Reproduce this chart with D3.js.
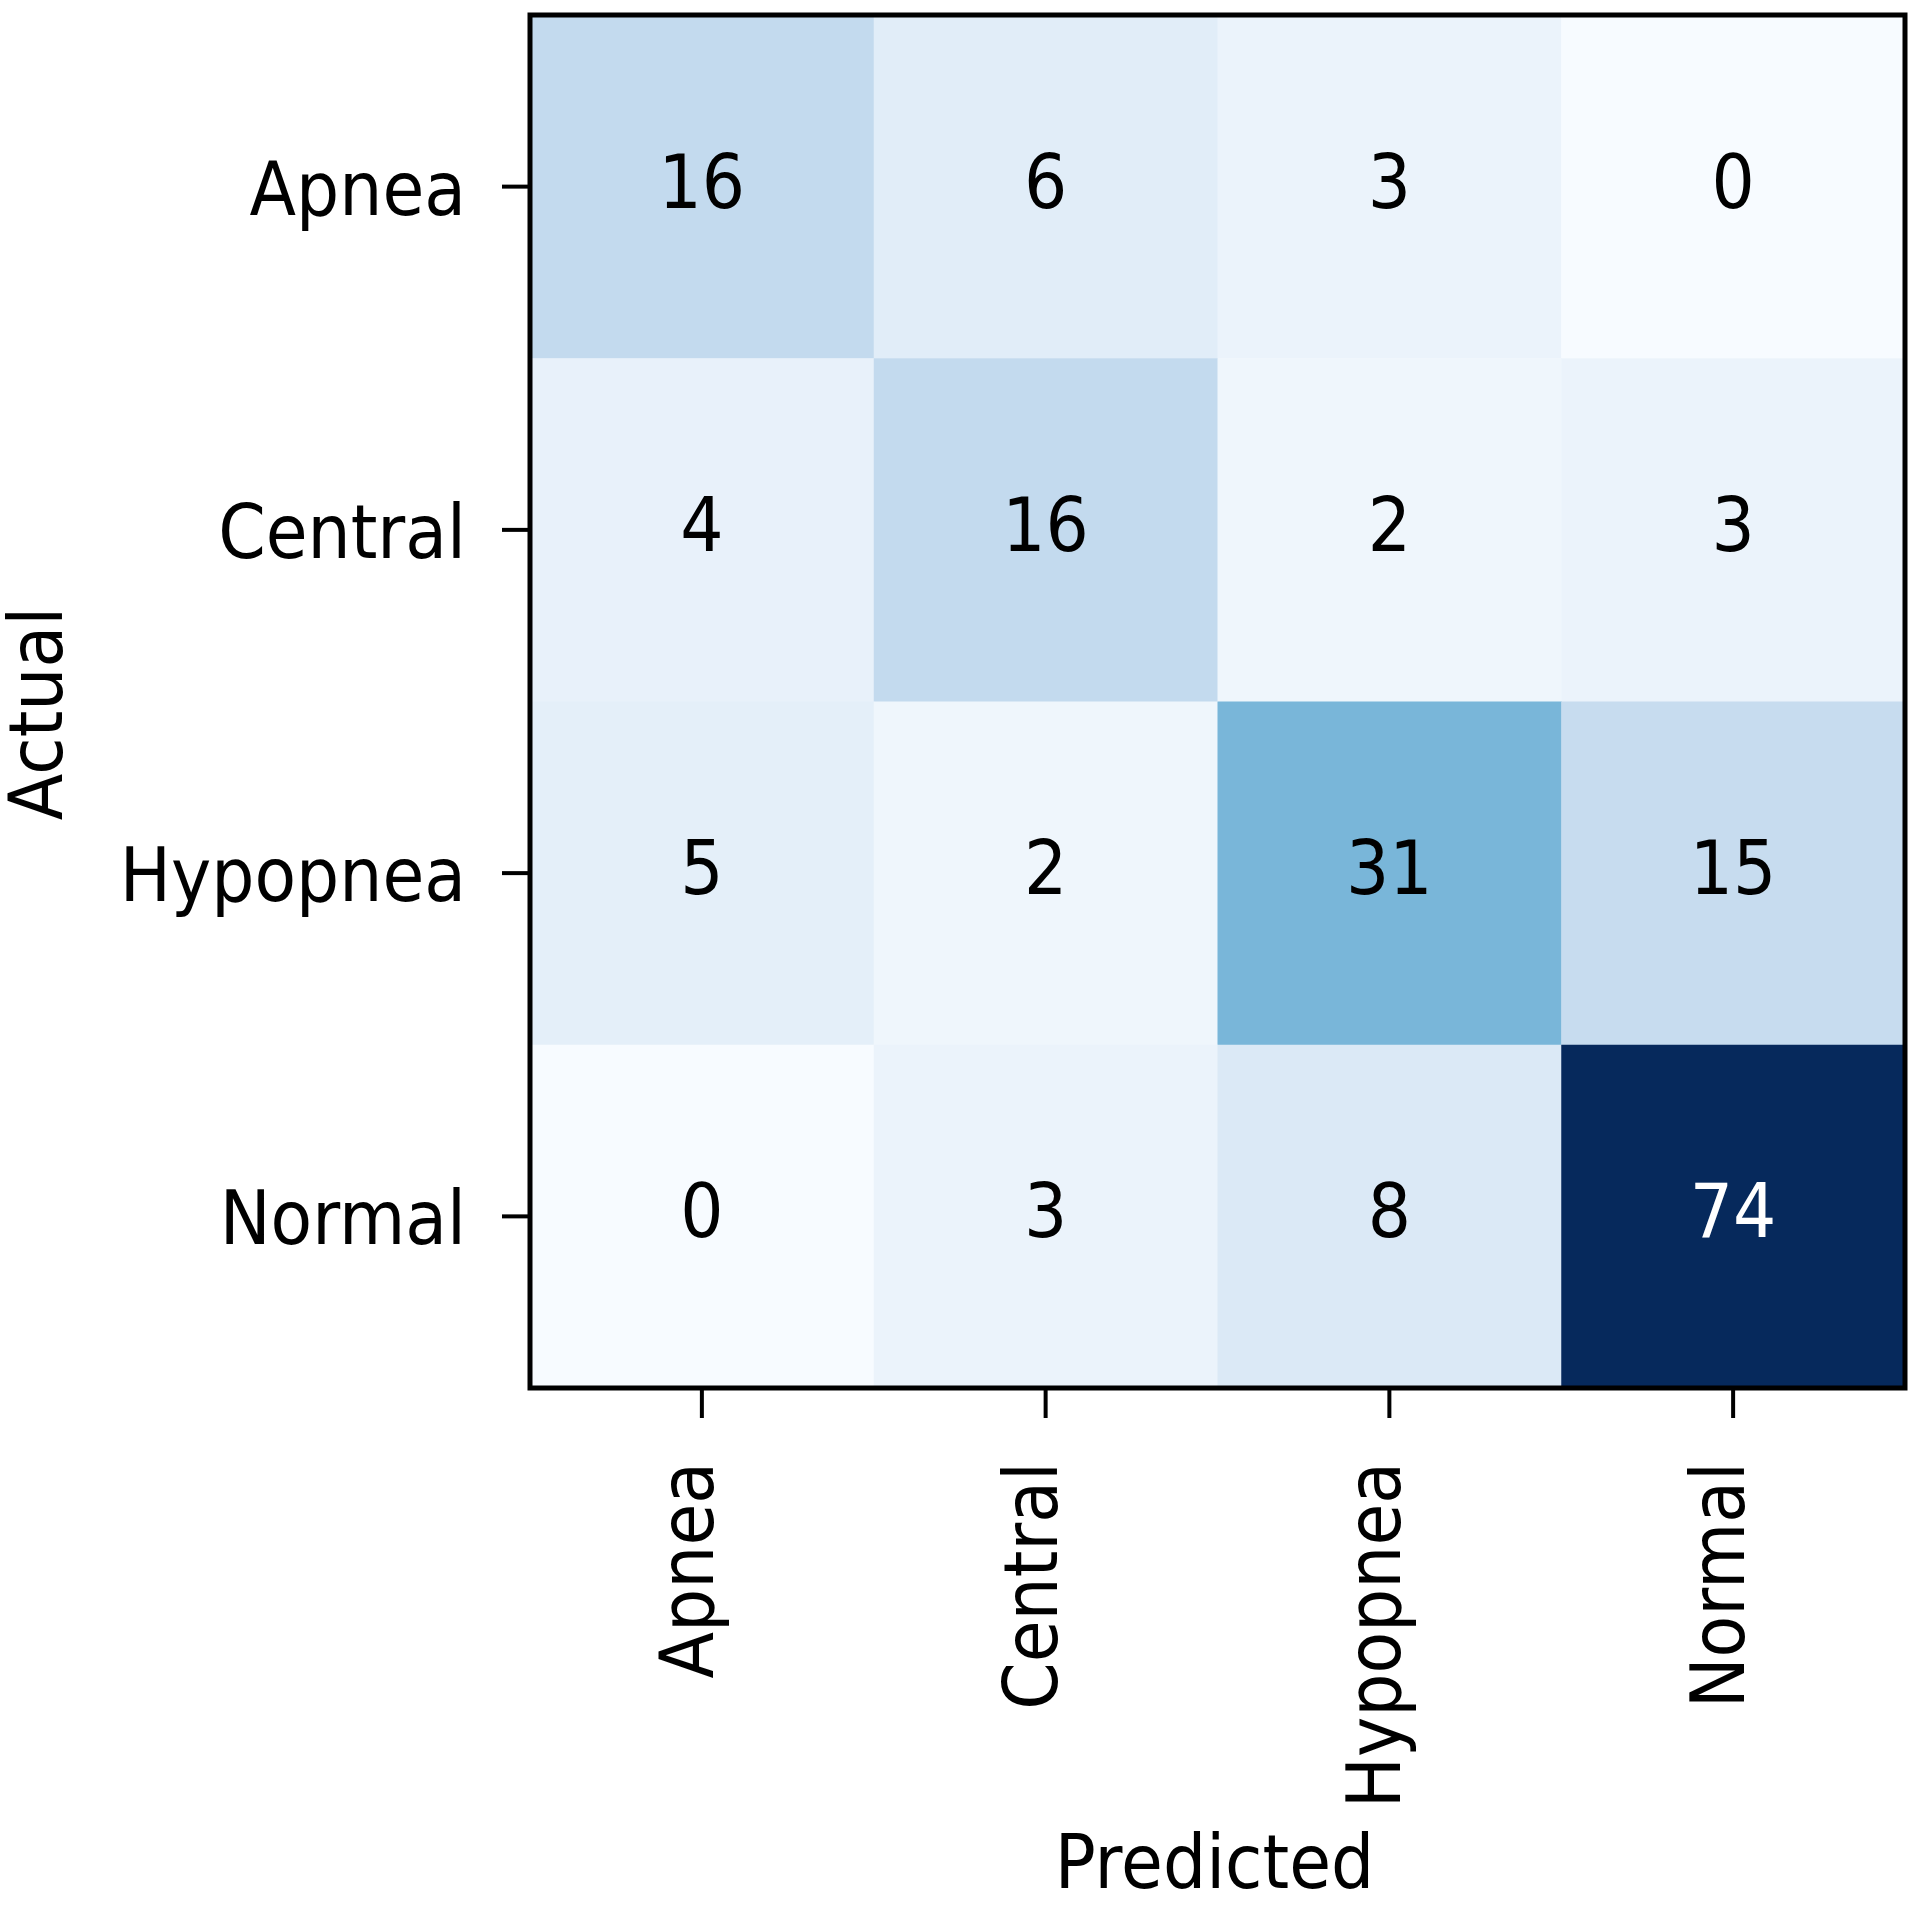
<!DOCTYPE html>
<html>
<head>
<meta charset="utf-8">
<script src="https://cdn.jsdelivr.net/npm/d3@7"></script>
<style>
  html, body { margin: 0; padding: 0; background: #ffffff; }
  svg { display: block; font-family: "DejaVu Sans", sans-serif; }
</style>
</head>
<body>
<svg id="chart" width="1920" height="1906"></svg>
<script>
// ---- data ----
const actualLabels = ["Apnea", "Central", "Hypopnea", "Normal"];
const predictedLabels = ["Apnea", "Central", "Hypopnea", "Normal"];
const rowApnea    = [16, 6, 3, 0];
const rowCentral  = [4, 16, 2, 3];
const rowHypopnea = [5, 2, 31, 15];
const rowNormal   = [0, 3, 8, 74];
const matrix = [rowApnea, rowCentral, rowHypopnea, rowNormal];
const xTitle = "Predicted";
const yTitle = "Actual";

// ---- layout ----
const plotLeft = 530, plotRight = 1905, plotTop = 15, plotBottom = 1388;
const fontSize = 74, squeeze = 0.92;

const svg = d3.select("#chart");

const x = d3.scaleBand().domain(predictedLabels).range([plotLeft, plotRight]).padding(0);
const y = d3.scaleBand().domain(actualLabels).range([plotTop, plotBottom]).padding(0);

// "Blues" colormap stops
const bluesStops = ["#f7fbff", "#deebf7", "#c6dbef", "#9ecae1", "#6baed6", "#4292c6", "#2171b5", "#08519c", "#06295c"];
const allVals = matrix.flat();
const vmin = d3.min(allVals), vmax = d3.max(allVals);
const norm = d3.scalePow().exponent(0.88).domain([vmin, vmax]).range([0, 1]);
const ramp = d3.scaleLinear()
  .domain(bluesStops.map((_, i) => i / (bluesStops.length - 1)))
  .range(bluesStops)
  .interpolate(d3.interpolateRgb);
const color = v => ramp(norm(v));

const cells = [];
matrix.forEach((row, i) => row.forEach((v, j) => cells.push({ a: actualLabels[i], p: predictedLabels[j], v })));

svg.append("g").selectAll("rect").data(cells).join("rect")
  .attr("x", d => x(d.p))
  .attr("y", d => y(d.a))
  .attr("width", x.bandwidth() + 0.5)
  .attr("height", y.bandwidth() + 0.5)
  .attr("fill", d => color(d.v));

const thresh = (vmax + vmin) / 2;
svg.append("g").selectAll("text").data(cells).join("text")
  .attr("transform", d => `translate(${x(d.p) + x.bandwidth() / 2},${y(d.a) + y.bandwidth() / 2 + 21}) scale(${squeeze},1)`)
  .attr("text-anchor", "middle")
  .attr("font-size", fontSize)
  .attr("fill", d => d.v > thresh ? "#ffffff" : "#000000")
  .text(d => d.v);

// frame
svg.append("rect")
  .attr("x", plotLeft).attr("y", plotTop)
  .attr("width", plotRight - plotLeft).attr("height", plotBottom - plotTop)
  .attr("fill", "none").attr("stroke", "#000").attr("stroke-width", 5);

// y axis
const yAxis = d3.axisLeft(y).tickSize(28).tickPadding(38);
const gy = svg.append("g").attr("transform", `translate(${plotLeft},0)`).call(yAxis);
gy.select(".domain").remove();
gy.selectAll(".tick line").attr("stroke", "#000").attr("stroke-width", 4);
gy.selectAll(".tick text")
  .attr("font-size", fontSize)
  .attr("font-family", "DejaVu Sans, sans-serif")
  .attr("fill", "#000")
  .attr("dy", null)
  .attr("x", null)
  .attr("transform", `translate(-64,28) scale(${squeeze},1)`)
  .attr("text-anchor", "end");

// x axis
const xAxis = d3.axisBottom(x).tickSize(30).tickPadding(0);
const gx = svg.append("g").attr("transform", `translate(0,${plotBottom})`).call(xAxis);
gx.select(".domain").remove();
gx.selectAll(".tick line").attr("stroke", "#000").attr("stroke-width", 4);
gx.selectAll(".tick text")
  .attr("font-size", fontSize)
  .attr("font-family", "DejaVu Sans, sans-serif")
  .attr("fill", "#000")
  .attr("y", null).attr("dy", null)
  .attr("text-anchor", "end")
  .attr("transform", `translate(11,74) rotate(-90) scale(${squeeze},1)`);

// axis titles
svg.append("text")
  .attr("transform", `translate(${(plotLeft + plotRight) / 2 - 3},1888) scale(${squeeze},1)`)
  .attr("text-anchor", "middle")
  .attr("font-size", fontSize)
  .attr("fill", "#000")
  .text(xTitle);

svg.append("text")
  .attr("transform", `translate(62,${(plotTop + plotBottom) / 2 + 12}) rotate(-90) scale(${squeeze},1)`)
  .attr("text-anchor", "middle")
  .attr("font-size", fontSize)
  .attr("fill", "#000")
  .text(yTitle);
</script>
</body>
</html>
